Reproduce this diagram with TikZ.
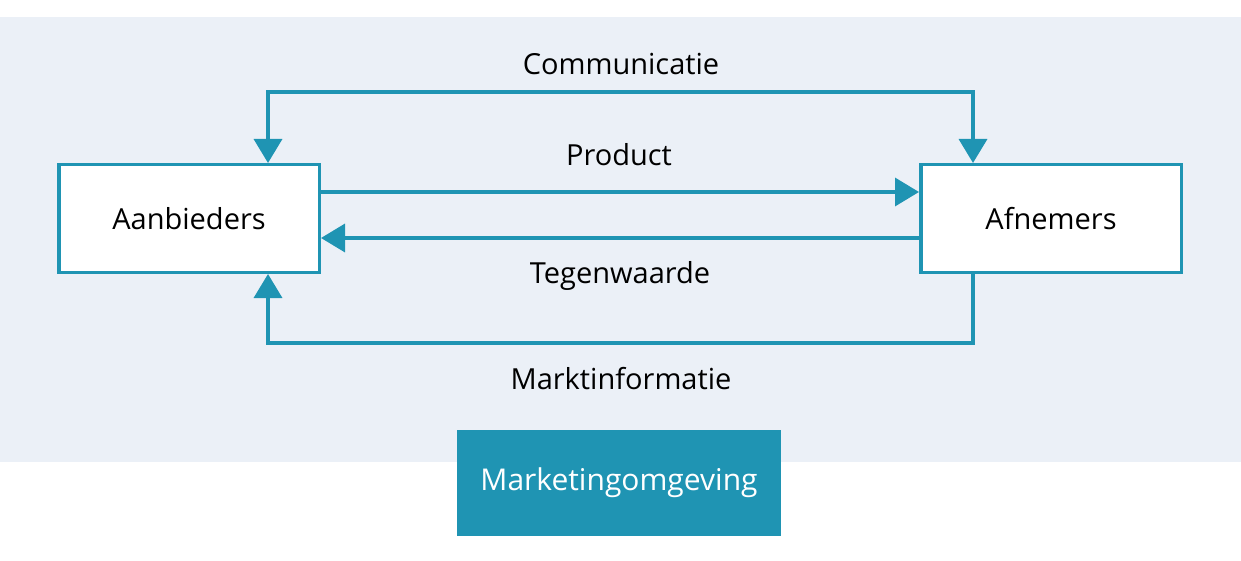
\documentclass[tikz,border=0pt]{standalone}
\usepackage{fontspec}
\setmainfont{Open Sans}
\usetikzlibrary{arrows.meta}
\definecolor{teal1}{RGB}{31,148,179}
\definecolor{panel}{RGB}{235,240,247}
\begin{document}
\begin{tikzpicture}[x=1pt,y=-1pt,
  >={Triangle[width=28pt,length=24pt]},
  box/.style={draw=teal1,line width=3.5pt,fill=white,inner sep=0pt,minimum width=260.5pt,minimum height=107.5pt,font=\fontsize{29}{33}\selectfont},
  lbl/.style={font=\fontsize{29}{33}\selectfont,text=black,inner sep=0pt},
  conn/.style={draw=teal1,line width=3.5pt}]
\useasboundingbox (0,0) rectangle (1241,561);
\fill[white] (0,0) rectangle (1241,561);
\fill[panel] (0,17) rectangle (1241,462);
\node[box] (A) at (189,218.5) {Aanbieders};
\node[box] (B) at (1051,218.5) {Afnemers};
\node[fill=teal1,minimum width=324pt,minimum height=106pt,inner sep=0pt,text=white,font=\fontsize{30}{34}\selectfont] (M) at (619,482.5) {Marketingomgeving};
\coordinate (ca) at (268,92);
\coordinate (cb) at (973,92);
\coordinate (ma) at (268,343);
\coordinate (mb) at (973,343);
\coordinate (yp) at (0,192);
\coordinate (yt) at (0,238);
\draw[conn,<->] (A.north -| ca) -- (ca) -- (cb) -- (B.north -| cb);
\draw[conn,->] (A.east |- yp) -- (B.west |- yp);
\draw[conn,->] (B.west |- yt) -- (A.east |- yt);
\draw[conn,->] (B.south -| mb) -- (mb) -- (ma) -- (A.south -| ma);
\node[lbl] (l1) at (621,64) {Communicatie};
\node[lbl] (l2) at (619,155) {Product};
\node[lbl] (l3) at (620,275.5) {Tegenwaarde};
\node[lbl] (l4) at (621,379) {Marktinformatie};
\end{tikzpicture}
\end{document}
